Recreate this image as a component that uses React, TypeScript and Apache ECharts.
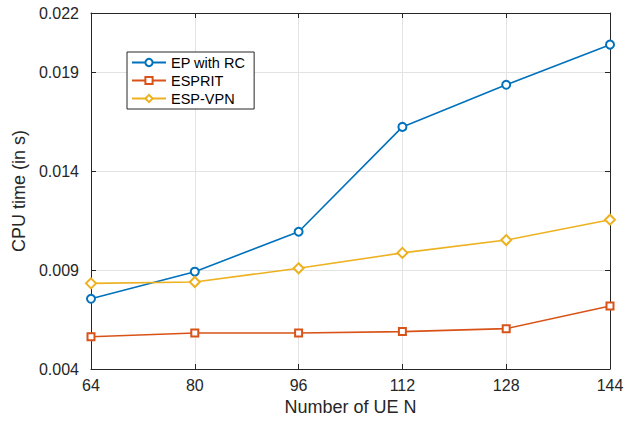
import React, { useEffect, useRef } from "react";
import * as echarts from "echarts";

const ueCounts = [64, 80, 96, 112, 128, 144];
const epWithRC = [0.00755, 0.00892, 0.01094, 0.01624, 0.01837, 0.0204];
const esprit = [0.00563, 0.00582, 0.00582, 0.00589, 0.00604, 0.00719];
const espVpn = [0.00833, 0.0084, 0.00909, 0.00987, 0.01052, 0.01155];
const yTicks = [0.004, 0.009, 0.014, 0.019, 0.022];
const xTicks = [64, 80, 96, 112, 128, 144];

const seriesNames = ["EP with RC", "ESPRIT", "ESP-VPN"];
const seriesColors = ["#0072BD", "#D95319", "#EDB120"];
const seriesSymbols = ["emptyCircle", "emptyRect", "emptyDiamond"];
const seriesSymbolSizes = [8, 7, 10];

export default function App() {
  const ref = useRef<HTMLDivElement>(null);
  useEffect(() => {
    if (!ref.current) return;
    const chart = echarts.init(ref.current, null, { renderer: "svg" });
    const font = "Liberation Sans, Arial, Helvetica, sans-serif";
    const axisColor = "#262626";
    const allData = [epWithRC, esprit, espVpn];
    chart.setOption({
      animation: false,
      backgroundColor: "#ffffff",
      textStyle: { fontFamily: font },
      grid: { left: 91, right: 25, top: 13, bottom: 53, containLabel: false },
      legend: {
        orient: "vertical",
        left: 127,
        top: 52,
        backgroundColor: "#ffffff",
        borderColor: axisColor,
        borderWidth: 1,
        borderRadius: 0,
        padding: [3, 9, 3, 4],
        itemWidth: 34,
        itemHeight: 9,
        itemGap: 3,
        textStyle: { fontFamily: font, fontSize: 14.5, color: "#000" },
        data: seriesNames,
      },
      xAxis: [
        {
          type: "value",
          min: 64,
          max: 144,
          interval: 16,
          name: "Number of UE N",
          nameLocation: "middle",
          nameGap: 25,
          nameTextStyle: { fontFamily: font, fontSize: 18, color: "#262626" },
          axisLine: { show: true, lineStyle: { color: axisColor, width: 1 } },
          axisTick: { show: true, inside: true, length: 5, lineStyle: { color: axisColor } },
          axisLabel: {
            color: "#262626",
            fontSize: 16,
            margin: 8,
            fontFamily: font,
            customValues: xTicks,
          },
          splitLine: { show: true, lineStyle: { color: "#e3e3e3", width: 1 } },
        },
        {
          type: "value",
          position: "top",
          min: 64,
          max: 144,
          interval: 16,
          axisLine: { show: true, lineStyle: { color: axisColor, width: 1 } },
          axisTick: { show: true, inside: true, length: 5, lineStyle: { color: axisColor } },
          axisLabel: { show: false },
          splitLine: { show: false },
        },
      ],
      yAxis: [
        {
          type: "value",
          min: 0.004,
          max: 0.022,
          name: "CPU time (in s)",
          nameLocation: "middle",
          nameGap: 54,
          nameTextStyle: { fontFamily: font, fontSize: 18, color: "#262626" },
          axisLine: { show: true, lineStyle: { color: axisColor, width: 1 } },
          axisTick: {
            show: true,
            inside: true,
            length: 5,
            lineStyle: { color: axisColor },
            customValues: yTicks,
          },
          axisLabel: {
            color: "#262626",
            fontSize: 16,
            margin: 12,
            fontFamily: font,
            customValues: yTicks,
            formatter: (v: number) => v.toFixed(3),
          },
          splitLine: { show: true, lineStyle: { color: "#e3e3e3", width: 1 } },
        },
        {
          type: "value",
          position: "right",
          min: 0.004,
          max: 0.022,
          axisLine: { show: true, lineStyle: { color: axisColor, width: 1 } },
          axisTick: {
            show: true,
            inside: true,
            length: 5,
            lineStyle: { color: axisColor },
            customValues: yTicks,
          },
          axisLabel: { show: false, customValues: yTicks },
          splitLine: { show: false },
        },
      ],
      series: seriesNames.map((name, i) => ({
        name,
        type: "line",
        xAxisIndex: 0,
        yAxisIndex: 0,
        data: ueCounts.map((x, j) => [x, allData[i][j]]),
        symbol: seriesSymbols[i],
        symbolSize: seriesSymbolSizes[i],
        showSymbol: true,
        color: seriesColors[i],
        lineStyle: { color: seriesColors[i], width: 1.6 },
        itemStyle: { color: seriesColors[i], borderColor: seriesColors[i], borderWidth: 1.5 },
        z: 3 + i,
      })),
    });
    return () => chart.dispose();
  }, []);
  return (
    <div
      ref={ref}
      style={{ position: "fixed", left: 0, top: 0, width: 635, height: 422 }}
    />
  );
}
